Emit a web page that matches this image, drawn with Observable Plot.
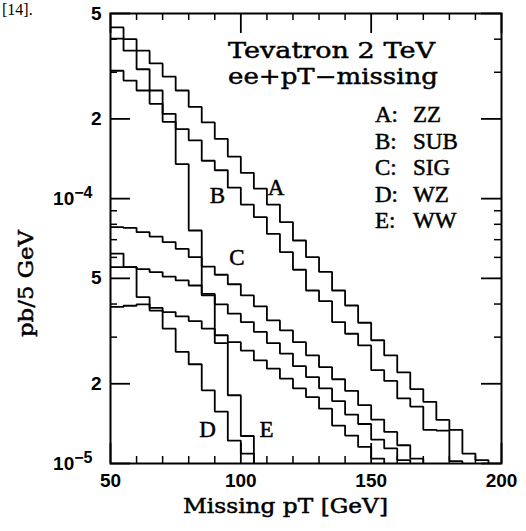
<!DOCTYPE html>
<html><head><meta charset="utf-8">
<script src="https://cdn.jsdelivr.net/npm/d3@7"></script>
<script src="https://cdn.jsdelivr.net/npm/@observablehq/plot@0.6"></script>
<style>html,body{margin:0;padding:0;background:#fff;} svg{display:block}</style>
</head><body><div id="chart"></div>
<script>
// Histogram bins: 5 GeV wide, first bin starts at 50 GeV
const binStart = 50, binWidth = 5;
// A: ZZ
const zz = [4.43e-4, 4.00e-4, 3.62e-4, 3.24e-4, 2.89e-4, 2.56e-4, 2.22e-4, 1.94e-4, 1.68e-4, 1.44e-4,
            1.25e-4, 1.09e-4, 9.50e-5, 8.15e-5, 6.95e-5, 6.01e-5, 5.29e-5, 4.50e-5, 3.95e-5, 3.40e-5,
            2.92e-5, 2.56e-5, 2.21e-5, 1.91e-5, 1.71e-5, 1.46e-5, 1.34e-5, 1.09e-5, 1.03e-5];
// B: SUB
const sub = [4.02e-4, 3.62e-4, 3.08e-4, 2.56e-4, 2.09e-4, 1.83e-4, 1.66e-4, 1.39e-4, 1.28e-4, 1.10e-4,
             9.50e-5, 8.51e-5, 7.36e-5, 6.28e-5, 5.39e-5, 4.50e-5, 4.10e-5, 3.42e-5, 3.09e-5, 2.79e-5,
             2.25e-5, 2.05e-5, 1.76e-5, 1.64e-5, 1.34e-5, 1.33e-5, 1.02e-5];
// C: SIG
const sig = [7.80e-5, 7.75e-5, 7.47e-5, 7.19e-5, 6.85e-5, 6.46e-5, 6.01e-5, 5.54e-5, 5.16e-5, 4.75e-5,
             4.31e-5, 3.92e-5, 3.47e-5, 3.18e-5, 2.87e-5, 2.56e-5, 2.31e-5, 2.08e-5, 1.88e-5, 1.66e-5,
             1.465e-5, 1.316e-5, 1.172e-5, 1.044e-5];
// D: WZ
const wz = [6.2e-5, 5.51e-5, 4.25e-5, 3.78e-5, 3.23e-5, 2.64e-5, 2.37e-5, 1.89e-5, 1.57e-5, 1.22e-5, 1.09e-5];
// E: WW
const ww = [3.04e-4, 2.79e-4, 2.56e-4, 2.28e-4, 1.95e-4, 1.35e-4, 7.58e-5, 4.31e-5, 2.85e-5, 1.81e-5, 1.27e-5];
// two further unlabeled histograms
const extra1 = [5.51e-5, 5.51e-5, 5.42e-5, 5.28e-5, 5.08e-5, 4.91e-5, 4.70e-5, 4.37e-5, 3.99e-5, 3.68e-5,
                3.42e-5, 3.14e-5, 2.85e-5, 2.60e-5, 2.33e-5, 2.12e-5, 1.92e-5, 1.72e-5, 1.53e-5, 1.41e-5,
                1.23e-5, 1.14e-5, 1.03e-5];
const extra2 = [3.90e-5, 3.94e-5, 3.99e-5, 3.87e-5, 3.73e-5, 3.59e-5, 3.45e-5, 3.23e-5, 3.05e-5, 2.87e-5,
                2.67e-5, 2.45e-5, 2.28e-5, 2.09e-5, 1.92e-5, 1.78e-5, 1.61e-5, 1.39e-5, 1.275e-5, 1.155e-5,
                1.044e-5];

const seriesNames = ["A", "B", "C", "D", "E", "X1", "X2"];
const seriesValues = [zz, sub, sig, wz, ww, extra1, extra2];

const xTicksMajor = [50, 100, 150, 200];
const xTicksMinor = [60, 70, 80, 90, 110, 120, 130, 140, 160, 170, 180, 190];
const yTicksMajor = [1e-5, 2e-5, 5e-5, 1e-4, 2e-4, 5e-4];
const yTicksMinor = [3e-5, 4e-5, 6e-5, 7e-5, 8e-5, 9e-5, 3e-4, 4e-4];
const yTickLabels = ["10^\u22125", "2", "5", "10^\u22124", "2", "5"];

const legendKeys = ["A:", "B:", "C:", "D:", "E:"];
const legendNames = ["ZZ", "SUB", "SIG", "WZ", "WW"];
const curveLabels = [
  {label: "A", x: 113.5, y: 1.10e-4},
  {label: "B", x: 91.0, y: 1.03e-4},
  {label: "C", x: 98.5, y: 6.0e-5},
  {label: "D", x: 87.2, y: 1.34e-5},
  {label: "E", x: 109.9, y: 1.34e-5}
];
const yMin = 1e-5, yMax = 5e-4;

// build step outlines
const stepRows = [];
seriesValues.forEach((vals, k) => {
  vals.forEach((v, i) => {
    const x0 = binStart + i * binWidth;
    stepRows.push({series: seriesNames[k], x: x0, y: v});
    stepRows.push({series: seriesNames[k], x: x0 + binWidth, y: v});
  });
  stepRows.push({series: seriesNames[k], x: binStart + vals.length * binWidth, y: yMin});
});

const W = 526, H = 531, mL = 110, mR = 25, mT = 13, mB = 68;
const innerW = W - mL - mR, innerH = H - mT - mB;
const yLabelMap = new Map(yTicksMajor.map((v, i) => [v, yTickLabels[i]]));

const plot = Plot.plot({
  width: W, height: H,
  marginLeft: mL, marginRight: mR, marginTop: mT, marginBottom: mB,
  style: {background: "#fff", color: "#000", fontFamily: "'Liberation Sans', Arial, sans-serif", fontSize: "19px", fontWeight: "bold"},
  x: {domain: [50, 200]},
  y: {type: "log", domain: [yMin, yMax]},
  marks: [
    Plot.line(stepRows, {x: "x", y: "y", z: "series", stroke: "#000", strokeWidth: 1.8, clip: true, strokeLinejoin: "miter"}),
    Plot.tickX(xTicksMajor, {x: d => d, insetTop: innerH - 20, stroke: "#000", strokeWidth: 1.8}),
    Plot.tickX(xTicksMajor, {x: d => d, insetBottom: innerH - 20, stroke: "#000", strokeWidth: 1.8}),
    Plot.tickX(xTicksMinor, {x: d => d, insetTop: innerH - 7, stroke: "#000", strokeWidth: 1.5}),
    Plot.tickX(xTicksMinor, {x: d => d, insetBottom: innerH - 7, stroke: "#000", strokeWidth: 1.5}),
    Plot.tickY(yTicksMajor, {y: d => d, insetRight: innerW - 20, stroke: "#000", strokeWidth: 1.8}),
    Plot.tickY(yTicksMajor, {y: d => d, insetLeft: innerW - 20, stroke: "#000", strokeWidth: 1.8}),
    Plot.tickY(yTicksMinor, {y: d => d, insetRight: innerW - 7, stroke: "#000", strokeWidth: 1.5}),
    Plot.tickY(yTicksMinor, {y: d => d, insetLeft: innerW - 7, stroke: "#000", strokeWidth: 1.5}),
    Plot.frame({stroke: "#000", strokeWidth: 2}),
    Plot.axisX({ticks: xTicksMajor, tickSize: 0, tickPadding: 10, label: null, tickFormat: d => String(d)}),
    Plot.axisY({ticks: yTicksMajor, tickSize: 0, tickPadding: 9, label: null, tickFormat: d => yLabelMap.get(d)}),
    Plot.text(curveLabels, {x: "x", y: "y", text: "label", fontFamily: "'Liberation Serif', serif", fontSize: 23, fontWeight: "normal", textAnchor: "middle", lineAnchor: "middle", fill: "#000", stroke: "#000", strokeWidth: 0.5})
  ]
});

document.getElementById("chart").appendChild(plot);
const svg = d3.select(plot);

// superscript tick labels
svg.selectAll("text").each(function() {
  const t = this.textContent;
  if (t.includes("^")) {
    const [base, exp] = t.split("^");
    const el = d3.select(this);
    el.text(null);
    el.append("tspan").text(base);
    el.append("tspan").attr("dy", "-0.4em").attr("font-size", "16px").text(exp);
    el.attr("transform", (el.attr("transform") || "") + " translate(-9,0)");
  }
});

function addText(x, y, str, o) {
  const t = svg.append("text").attr("x", x).attr("y", y).text(str)
    .attr("fill", "#000")
    .attr("text-anchor", o.anchor || "start")
    .attr("font-family", o.family)
    .attr("font-size", o.size)
    .attr("font-weight", o.weight || "normal");
  if (o.len) t.attr("textLength", o.len).attr("lengthAdjust", "spacingAndGlyphs");
  if (o.thick) t.attr("stroke", "#000").attr("stroke-width", o.thick);
  if (o.transform) t.attr("transform", o.transform);
  return t;
}
const slab = "'DejaVu Serif', serif";
const serif = "'Liberation Serif', 'Times New Roman', serif";

addText(228, 58, "Tevatron 2 TeV", {family: slab, size: 22, len: 207, thick: 0.45});
addText(228, 84, "ee+pT\u2212missing", {family: slab, size: 22, len: 210, thick: 0.45});
legendKeys.forEach((k, i) => {
  addText(375, 122 + i * 26.6, k, {family: serif, size: 23, thick: 0.5});
  addText(413, 122 + i * 26.6, legendNames[i], {family: serif, size: 23, thick: 0.5});
});
addText(183, 513, "Missing pT [GeV]", {family: slab, size: 21, len: 205, thick: 0.5});
addText(0, 0, "pb/5 GeV", {family: slab, size: 21, len: 107, anchor: "middle", thick: 0.5, transform: "translate(33,283.5) rotate(-90)"});
addText(2, 15, "[14].", {family: serif, size: 16});
</script>
</body></html>
